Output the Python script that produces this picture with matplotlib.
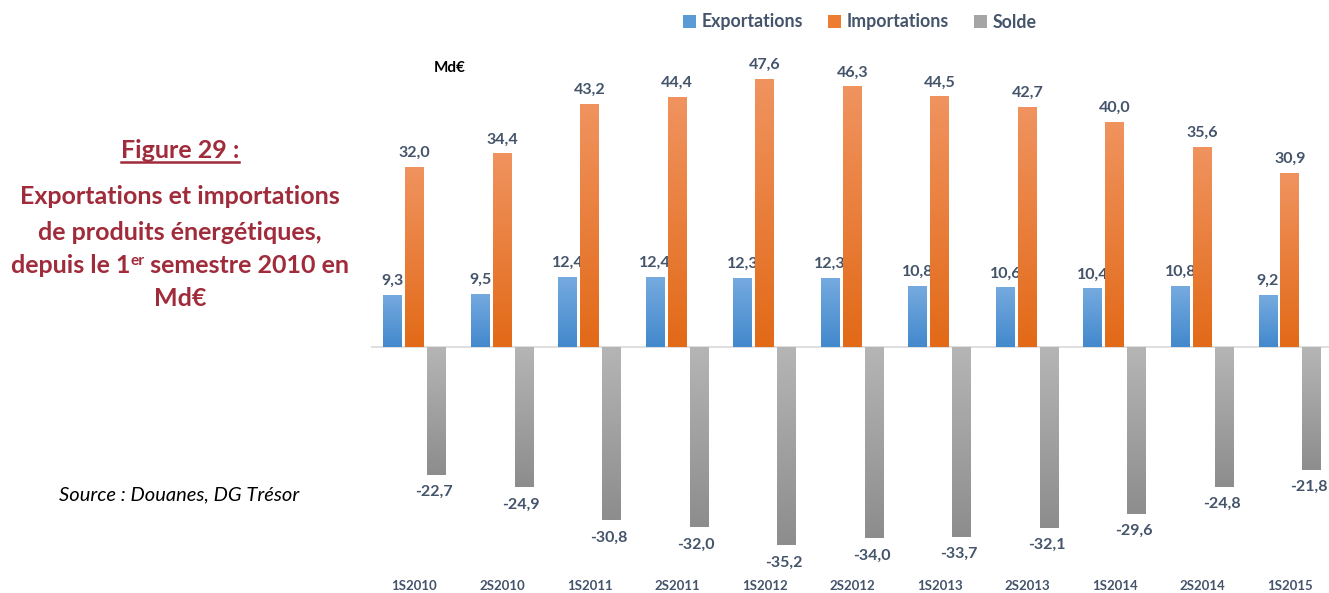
import numpy as np
import matplotlib.pyplot as plt
from matplotlib.colors import to_rgb
from matplotlib.patches import Patch
from matplotlib.lines import Line2D

plt.rcParams['font.family'] = ['Lato', 'DejaVu Sans']

periodes = ["1S2010", "2S2010", "1S2011", "2S2011", "1S2012", "2S2012",
            "1S2013", "2S2013", "1S2014", "2S2014", "1S2015"]
exportations = [9.3, 9.5, 12.4, 12.4, 12.3, 12.3, 10.8, 10.6, 10.4, 10.8, 9.2]
importations = [32.0, 34.4, 43.2, 44.4, 47.6, 46.3, 44.5, 42.7, 40.0, 35.6, 30.9]
solde = [-22.7, -24.9, -30.8, -32.0, -35.2, -34.0, -33.7, -32.1, -29.6, -24.8, -21.8]

W, H = 1329, 593
fig = plt.figure(figsize=(W / 100, H / 100), dpi=100)
ax = fig.add_axes([370.7 / W, 0, 1 - 370.7 / W, 1])

lbl_col = "#44546a"
titre_col = "#a02b3b"

series = [
    ("Exportations", exportations, -0.251, "#5b9bd5", ("#75aadf", "#4389cd")),
    ("Importations", importations, 0.0, "#ed7d31", ("#f0935f", "#e26a18")),
    ("Solde", solde, 0.251, "#a5a5a5", ("#b5b5b5", "#8d8d8d")),
]

x = np.arange(len(periodes))
bw = 0.217

for nom, vals, dx, col, (haut, bas) in series:
    bars = ax.bar(x + dx, vals, bw, color=col, label=nom, zorder=2)
    c0, c1 = np.array(to_rgb(haut)), np.array(to_rgb(bas))
    grad = np.linspace(0, 1, 64).reshape(-1, 1, 1)
    img = c0 + grad * (c1 - c0)
    for b, v in zip(bars, vals):
        x0, x1 = b.get_x(), b.get_x() + b.get_width()
        y0, y1 = min(0, v), max(0, v)
        # vertical gradient, lighter at the top of the bar
        im = ax.imshow(img, extent=[x0, x1, y0, y1], origin="upper",
                       aspect="auto", zorder=3, interpolation="bilinear")
        im.set_clip_path(b)
        txt = f"{v:.1f}".replace(".", ",")
        if v >= 0:
            ax.annotate(txt, (b.get_x() + bw / 2, v), xytext=(0, 5),
                        textcoords="offset points", ha="center", va="bottom",
                        fontsize=11.5, fontweight="bold", color=lbl_col)
        else:
            ax.annotate(txt, (b.get_x() + bw / 2, v), xytext=(-2, -7.5),
                        textcoords="offset points", ha="center", va="top",
                        fontsize=11.5, fontweight="bold", color=lbl_col)

ax.axhline(0, color="#d9d9d9", lw=1.2, zorder=1)
ax.set_xlim(-0.5, -0.5 + (W - 370.7) / 87.55)
ax.set_ylim(-(H - 347) / 5.63, 347 / 5.63)
ax.axis("off")

for i, p in enumerate(periodes):
    ax.text(i, 1 - 586 / H, p, transform=ax.get_xaxis_transform(),
            ha="center", va="center", fontsize=9.5, fontweight="bold",
            color=lbl_col)

fig.text(450 / W, 1 - 68 / H, "Md€", ha="center", va="center",
         fontsize=11, fontweight="bold", color="black")

handles = [Patch(facecolor=c) for _, _, _, c, _ in series]
fig.legend(handles, [s[0] for s in series], loc="center",
           bbox_to_anchor=(860 / W, 1 - 22 / H), ncol=3, frameon=False,
           handlelength=0.7, handleheight=0.7, handletextpad=0.35,
           columnspacing=1.4, prop={"size": 12.8, "weight": "bold"},
           labelcolor=lbl_col)

# left panel: figure title
fs = 18
t = fig.text(180 / W, 1 - 150 / H, "Figure 29 :", ha="center", va="center",
             fontsize=fs, fontweight="bold", color=titre_col)
fig.canvas.draw()
r = fig.canvas.get_renderer()
bb = t.get_window_extent(r)
fig.add_artist(Line2D([bb.x0 / W, bb.x1 / W], [(H - 162) / H] * 2,
                      color=titre_col, lw=1.8))

fig.text(180 / W, 1 - 197 / H, "Exportations et importations", ha="center",
         va="center", fontsize=fs, fontweight="bold", color=titre_col)
fig.text(180 / W, 1 - 232 / H, "de produits énergétiques,", ha="center",
         va="center", fontsize=fs, fontweight="bold", color=titre_col)
fig.text(180 / W, 1 - 298 / H, "Md€", ha="center",
         va="center", fontsize=fs, fontweight="bold", color=titre_col)

# third line with the superscript "er"
morceaux = [("depuis le 1", fs, 0), ("er", fs * 0.62, 8), (" semestre 2010 en", fs, 0)]
arts = []
for txt, s, dy in morceaux:
    a = fig.text(0, 0, txt, fontsize=s, fontweight="bold", color=titre_col,
                 va="baseline", ha="left")
    arts.append((a, dy))
fig.canvas.draw()
larg = [a.get_window_extent(r).width for a, _ in arts]
xg = 180 - sum(larg) / 2
base = H - 273
for (a, dy), w in zip(arts, larg):
    a.set_position((xg / W, (base + dy) / H))
    xg += w

fig.text(179 / W, 1 - 495 / H, "Source : Douanes, DG Trésor", ha="center",
         va="center", fontsize=14.5, style="italic", color="black")

fig.savefig("out.png", dpi=100)
